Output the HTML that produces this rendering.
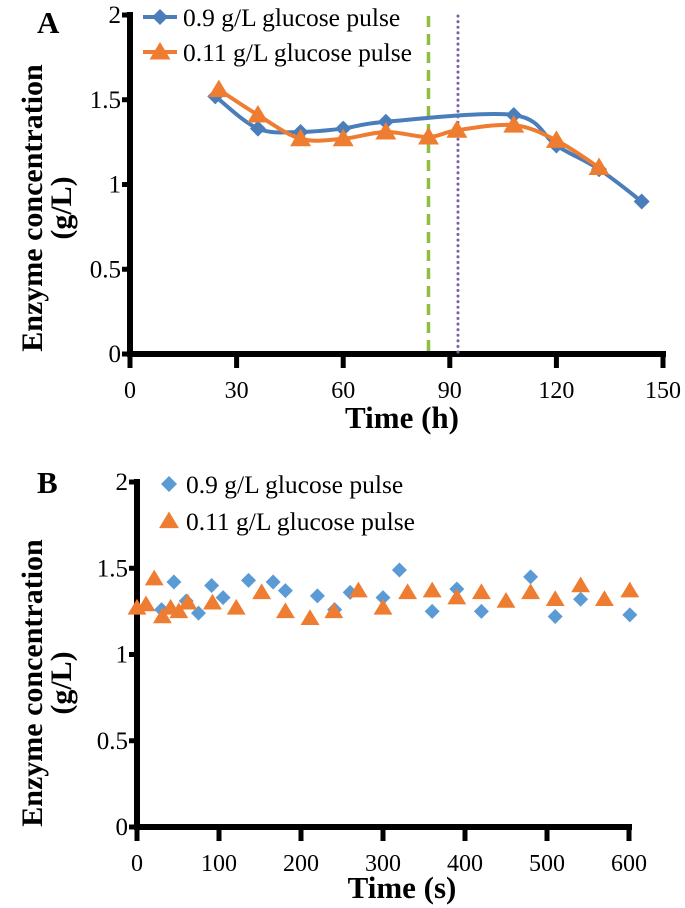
<!DOCTYPE html>
<html><head><meta charset="utf-8"><style>
body{margin:0;background:#fff}
svg{display:block}
text{font-family:"Liberation Serif",serif;fill:#000}
</style></head><body>
<svg id="s" width="685" height="908"></svg>
<script>
const aTicksX=[0,30,60,90,120,150];
const yTicks=[0,0.5,1,1.5,2];
const yTickLabels=["0","0.5","1","1.5","2"];
const aBlueX=[24,36,48,60,72,108,120,132,144];
const aBlueY=[1.52,1.33,1.31,1.33,1.37,1.41,1.23,1.09,0.9];
const aOrX=[25,36,48,60,72,84,92,108,120,132];
const aOrY=[1.56,1.41,1.27,1.27,1.31,1.28,1.32,1.35,1.26,1.10];
const aVlines=[84,92.3];
const bTicksX=[0,100,200,300,400,500,600];
const bBlueX=[30,45,60,75,91,105,136,166,181,220,241,260,300,320,360,390,420,480,510,541,601];
const bBlueY=[1.26,1.42,1.31,1.24,1.40,1.33,1.43,1.42,1.37,1.34,1.26,1.36,1.33,1.49,1.25,1.38,1.25,1.45,1.22,1.32,1.23];
const bOrX=[0,11,21,31,41,51,62,92,121,152,181,211,240,270,300,330,360,390,420,450,480,510,541,570,601];
const bOrY=[1.27,1.29,1.44,1.22,1.27,1.25,1.30,1.30,1.27,1.36,1.25,1.21,1.25,1.37,1.27,1.36,1.37,1.33,1.36,1.31,1.36,1.32,1.40,1.32,1.37];

const S=document.getElementById('s');const NS='http://www.w3.org/2000/svg';
function el(t,a,p){const e=document.createElementNS(NS,t);for(const k in a)e.setAttribute(k,a[k]);(p||S).appendChild(e);return e;}
function txt(x,y,s,a,p){const e=el('text',Object.assign({x:x,y:y},a||{}),p);e.textContent=s;return e;}
const BLUE='#4a7ebb',ORANGE='#ef7d31',BLUE2='#5b9bd5';
function diamond(g,x,y,r,c){return el('path',{d:`M${x} ${y-r}L${x+r} ${y}L${x} ${y+r}L${x-r} ${y}Z`,fill:c},g);}
function tri(g,x,y,r,c){return el('path',{d:`M${x} ${y-r}L${x+r*1.05} ${y+r*0.75}L${x-r*1.05} ${y+r*0.75}Z`,fill:c},g);}
function smooth(pts){let d=`M${pts[0][0]} ${pts[0][1]}`;for(let i=0;i<pts.length-1;i++){const p0=pts[i-1]||pts[i],p1=pts[i],p2=pts[i+1],p3=pts[i+2]||p2;const t=1/6;d+=`C${p1[0]+(p2[0]-p0[0])*t} ${p1[1]+(p2[1]-p0[1])*t} ${p2[0]-(p3[0]-p1[0])*t} ${p2[1]-(p3[1]-p1[1])*t} ${p2[0]} ${p2[1]}`;}return d;}

function panel(o){
 const g=el('g',{});
 const sx=v=>o.x0+(v-o.xmin)/(o.xmax-o.xmin)*(o.x1-o.x0);
 const sy=v=>o.y0-v/2*(o.y0-o.y1);
 txt(o.lx,o.ly,o.letter,{'font-size':31,'font-weight':'bold',},g);
 el('line',{x1:o.x0,y1:o.y1-3,x2:o.x0,y2:o.y0+3,stroke:'#000','stroke-width':6,},g);
 el('line',{x1:o.x0-3,y1:o.y0,x2:o.x1+3,y2:o.y0,stroke:'#000','stroke-width':6,},g);
 yTicks.forEach((v,i)=>{const y=sy(v);el('line',{x1:o.x0-8,y1:y,x2:o.x0,y2:y,stroke:'#000','stroke-width':5},g);
  const t=txt(o.x0-9,y+8,yTickLabels[i],{'font-size':25,'text-anchor':'end'},g);});
 o.ticks.forEach(v=>{const x=sx(v);el('line',{x1:x,y1:o.y0,x2:x,y2:o.y0+14,stroke:'#000','stroke-width':5},g);
  const t=txt(x,o.y0+44,String(v),{'font-size':24,'text-anchor':'middle'},g);});
 const yt=el('text',{transform:`translate(42,${o.ytc}) rotate(-90)`,'font-size':30,'font-weight':'bold','text-anchor':'middle',},g);
 yt.innerHTML=`<tspan x="0" y="0">Enzyme concentration</tspan><tspan x="0" y="29">(g/L)</tspan>`;
 txt(o.xtc,o.xty,o.xtitle,{'font-size':31,'font-weight':'bold','text-anchor':'middle',},g);
 return {g,sx,sy};
}

// Panel A
const A=panel({name:'panel-a',letter:'A',lx:37,ly:33,x0:130,x1:663,xmin:0,xmax:150,y0:354,y1:15,ticks:aTicksX,ytc:208,xtc:402,xty:428,xtitle:'Time (h)'});
aVlines.forEach((v,i)=>{const l=el('line',{x1:A.sx(v),y1:16,x2:A.sx(v),y2:354,stroke:i?'#7f5fa8':'#8fbe40','stroke-width':i?3:3.5,'stroke-dasharray':i?'0.1 5.5':'11 7','stroke-linecap':i?'round':'butt'});
 });
[[aBlueX,aBlueY,BLUE,'series-0.9-line',diamond,8],[aOrX,aOrY,ORANGE,'series-0.11-line',tri,10]].forEach(s=>{
 const pts=s[0].map((x,i)=>[A.sx(x),A.sy(s[1][i])]);
 const p=el('path',{d:smooth(pts),fill:'none',stroke:s[2],'stroke-width':4});
 
 pts.forEach(q=>{const m=s[4](S,q[0],q[1],s[5],s[2]);});
});
[[17,BLUE,diamond,'0.9 g/L glucose pulse',8],[52,ORANGE,tri,'0.11 g/L glucose pulse',10]].forEach(l=>{
 const g=el('g',{});
 el('line',{x1:143,y1:l[0],x2:177,y2:l[0],stroke:l[1],'stroke-width':4},g);l[2](g,160,l[0],l[4],l[1]);
 txt(183,l[0]+9,l[3],{'font-size':25.5},g);
});

// Panel B
const B=panel({name:'panel-b',letter:'B',lx:37,ly:493,x0:137,x1:629,xmin:0,xmax:600,y0:827,y1:482,ticks:bTicksX,ytc:683,xtc:402,xty:898,xtitle:'Time (s)'});
bBlueX.forEach((x,i)=>{const m=diamond(S,B.sx(x),B.sy(bBlueY[i]),7.5,BLUE2);});
bOrX.forEach((x,i)=>{const m=tri(S,B.sx(x),B.sy(bOrY[i]),9,ORANGE);});
[[484,BLUE2,diamond,'0.9 g/L glucose pulse',8],[521,ORANGE,tri,'0.11 g/L glucose pulse',9.5]].forEach(l=>{
 const g=el('g',{});
 l[2](g,169,l[0],l[4],l[1]);
 txt(186,l[0]+9,l[3],{'font-size':25.5},g);
});
</script>
</body></html>
